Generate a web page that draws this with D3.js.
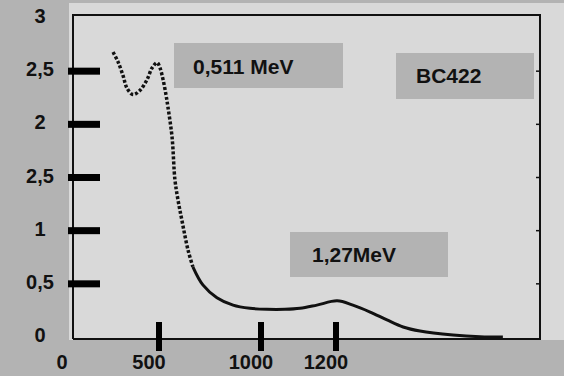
<!DOCTYPE html>
<html>
<head>
<meta charset="utf-8">
<script src="https://cdn.jsdelivr.net/npm/d3@7"></script>
<style>
    body { margin: 0; background: #b3b3b3; }
    svg { display: block; }
    text { font-family: "Liberation Sans", Arial, sans-serif; font-weight: bold; fill: #111; }
</style>
</head>
<body>
<div id="chart"></div>
<script>

// Спектр BC422 (канал, отсчёты)
var channels = [236, 264, 293, 316, 351, 391, 431, 460, 489, 505, 520, 534, 544, 564, 578, 593, 612, 642, 666,
                715, 784, 863, 946, 1016, 1064, 1104, 1149, 1203, 1245, 1291, 1336, 1379, 1424, 1512, 1584, 1645];
var counts   = [2.68, 2.59, 2.46, 2.34, 2.28, 2.32, 2.42, 2.53, 2.58, 2.53, 2.42, 2.28, 2.16, 1.88, 1.48, 1.29, 1.10, 0.82, 0.66,
                0.49, 0.37, 0.30, 0.27, 0.26, 0.26, 0.27, 0.30, 0.34, 0.30, 0.235, 0.16, 0.094, 0.056, 0.019, 0.003, 0];
var dottedUntil = 666;   // верх кривой на скане точечный

var xTicks = [500, 1000, 1200];
var xLabels = ["0", "500", "1000", "1200"];
var xLabelValues = [0, 500, 1000, 1200];
var yTicks = [0.5, 1, 1.5, 2, 2.5];
var yLabelValues = [0, 0.5, 1, 1.5, 2, 2.5, 3];
var yLabels = ["0", "0,5", "1", "2,5", "2", "2,5", "3"];   // так на оригинале

var notes = [
    {text: "0,511 MeV", box: [174, 43, 169, 45], at: [193, 74]},
    {text: "BC422",     box: [396, 53, 138, 46], at: [416, 83]},
    {text: "1,27MeV",   box: [290, 232, 158, 45], at: [312, 262]}
];

var width = 564, height = 376;
var plot = {left: 73, right: 540, top: 15, bottom: 339};

var svg = d3.select("#chart").append("svg")
    .attr("width", width)
    .attr("height", height);

// шкала по X на скане неравномерная
var x = d3.scaleLinear()
    .domain([0, 500, 1000, 1200])
    .range([72, 159, 261, 336]);
var y = d3.scaleLinear()
    .domain([0, 3])
    .range([337, 18]);

// подложка скана
svg.append("rect")
    .attr("x", 69).attr("y", 3)
    .attr("width", width - 69).attr("height", 337)
    .attr("fill", "#d9d9d9");

// рамка
svg.append("path")
    .attr("d", "M" + plot.left + "," + plot.bottom + "V" + plot.top + "H" + plot.right + "V" + plot.bottom + "H" + plot.left)
    .attr("fill", "none")
    .attr("stroke", "#111")
    .attr("stroke-width", 2);

// мелкие риски на правой стороне
svg.selectAll(".rtick")
    .data(yTicks)
    .enter().append("line")
    .attr("class", "rtick")
    .attr("x1", plot.right - 4).attr("x2", plot.right)
    .attr("y1", function(d){ return y(d); })
    .attr("y2", function(d){ return y(d); })
    .attr("stroke", "#111")
    .attr("stroke-width", 1.5);

var data = channels.map(function(c, i){ return {x: c, y: counts[i]}; });

var line = d3.line()
    .x(function(d){ return x(d.x); })
    .y(function(d){ return y(d.y); })
    .curve(d3.curveCatmullRom);

svg.append("path")
    .datum(data.filter(function(d){ return d.x <= dottedUntil; }))
    .attr("d", line)
    .attr("fill", "none")
    .attr("stroke", "#111")
    .attr("stroke-width", 3.5)
    .attr("stroke-dasharray", "3,2");

svg.append("path")
    .datum(data.filter(function(d){ return d.x >= dottedUntil; }))
    .attr("d", line)
    .attr("fill", "none")
    .attr("stroke", "#111")
    .attr("stroke-width", 3);

// подписи в серых плашках
var note = svg.selectAll(".note")
    .data(notes)
    .enter().append("g")
    .attr("class", "note");

note.append("rect")
    .attr("x", function(d){ return d.box[0]; })
    .attr("y", function(d){ return d.box[1]; })
    .attr("width", function(d){ return d.box[2]; })
    .attr("height", function(d){ return d.box[3]; })
    .attr("fill", "#b3b3b3");

note.append("text")
    .attr("x", function(d){ return d.at[0]; })
    .attr("y", function(d){ return d.at[1]; })
    .attr("font-size", "21px")
    .text(function(d){ return d.text; });

// толстые риски оси Y
svg.selectAll(".ytick")
    .data(yTicks)
    .enter().append("rect")
    .attr("class", "ytick")
    .attr("x", 68)
    .attr("y", function(d){ return y(d) - 3.5; })
    .attr("width", 32)
    .attr("height", 7)
    .attr("fill", "#000");

svg.selectAll(".ylabel")
    .data(yLabelValues)
    .enter().append("text")
    .attr("class", "ylabel")
    .attr("x", 40)
    .attr("y", function(d){ return y(d) - 2; })
    .attr("dy", "0.35em")
    .attr("text-anchor", "middle")
    .attr("font-size", "20px")
    .text(function(d, i){ return yLabels[i]; });

// толстые риски оси X
svg.selectAll(".xtick")
    .data(xTicks)
    .enter().append("rect")
    .attr("class", "xtick")
    .attr("x", function(d){ return x(d) - 3; })
    .attr("y", 322)
    .attr("width", 6)
    .attr("height", 29)
    .attr("fill", "#000");

svg.selectAll(".xlabel")
    .data(xLabelValues)
    .enter().append("text")
    .attr("class", "xlabel")
    .attr("x", function(d){ return x(d) - 10; })
    .attr("y", 369)
    .attr("text-anchor", "middle")
    .attr("font-size", "20px")
    .text(function(d, i){ return xLabels[i]; });

</script>
</body>
</html>
